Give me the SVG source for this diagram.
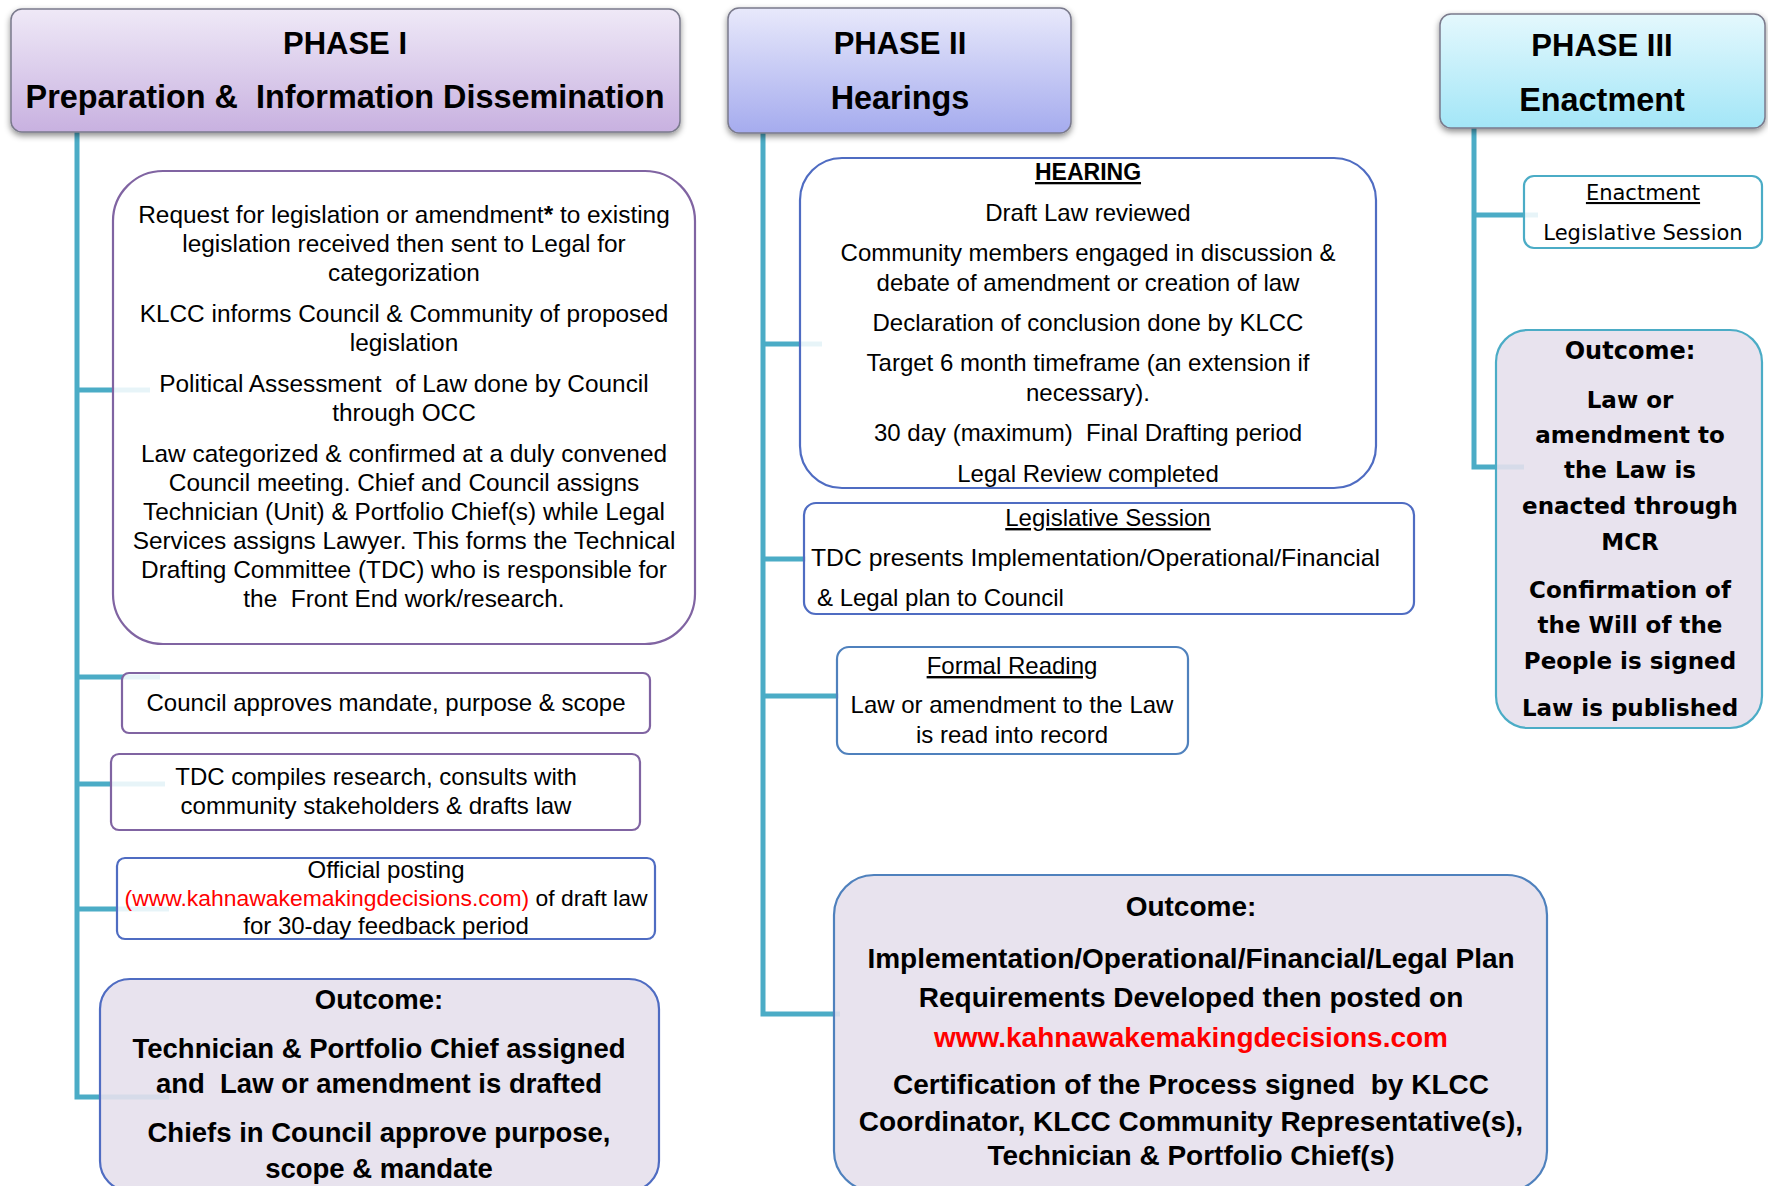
<svg xmlns="http://www.w3.org/2000/svg" width="1768" height="1186" viewBox="0 0 1768 1186">
<defs>
<linearGradient id="g1" x1="0" y1="0" x2="0" y2="1"><stop offset="0" stop-color="#efe9f7"/><stop offset="1" stop-color="#c8b1e0"/></linearGradient>
<linearGradient id="g2" x1="0" y1="0" x2="0" y2="1"><stop offset="0" stop-color="#e8e9fb"/><stop offset="1" stop-color="#a5abee"/></linearGradient>
<linearGradient id="g3" x1="0" y1="0" x2="0" y2="1"><stop offset="0" stop-color="#e4f8fd"/><stop offset="1" stop-color="#a3e6f7"/></linearGradient>
<filter id="sh" x="-5%" y="-10%" width="110%" height="130%"><feDropShadow dx="0" dy="3" stdDeviation="3" flood-color="#000" flood-opacity="0.45"/></filter>
<style>
.t{font-family:"Liberation Sans",Arial,sans-serif;font-size:24px;fill:#000;text-anchor:middle}
.w{font-size:24.4px}
.b{font-weight:bold}
.h1{font-size:31px;font-weight:bold}
.h2{font-size:32.4px;font-weight:bold}
.o1{font-size:27.5px;font-weight:bold}
.o2{font-size:28px;font-weight:bold}
.dv{font-family:"DejaVu Sans",Verdana,sans-serif;font-size:21px}
.dvb{font-family:"DejaVu Sans",Verdana,sans-serif;font-size:23px;font-weight:bold}
.u{text-decoration:underline}
.red{fill:#ff0000}
.hdr{stroke:#7a7a8c;stroke-width:1.5}
.bx{fill:#fff;fill-opacity:0.87;stroke-width:2.2}
.oc{fill:#e5e0ec;fill-opacity:0.9;stroke-width:2.2}
.p1{stroke:#8064a2}
.p2{stroke:#4f6cc2}
.p2b{stroke:#4f81bd}
.p3{stroke:#4bacc6}
.con{fill:none;stroke:#4bacc6;stroke-width:5}
</style>
</defs>

<g id="connectors" class="con">
<path d="M77 132 V1097 H169"/>
<path d="M77 390 H150"/>
<path d="M77 677 H160"/>
<path d="M77 784 H165"/>
<path d="M77 909 H169"/>
<path d="M763 133 V1014 H840"/>
<path d="M763 344 H822"/>
<path d="M763 559 H806"/>
<path d="M763 696 H839"/>
<path d="M1474 128 V467 H1524"/>
<path d="M1474 215 H1538"/>
</g>

<g id="phase1-header">
<rect x="11" y="9" width="669" height="123" rx="11" fill="url(#g1)" class="hdr" filter="url(#sh)"/>
<text class="t h1" x="345" y="54">PHASE I</text>
<text class="t h2" x="345" y="108" xml:space="preserve">Preparation &amp;  Information Dissemination</text>
</g>

<g id="phase2-header">
<rect x="728" y="8" width="343" height="125" rx="11" fill="url(#g2)" class="hdr" filter="url(#sh)"/>
<text class="t h1" x="900" y="54">PHASE II</text>
<text class="t h2" x="900" y="109">Hearings</text>
</g>

<g id="phase3-header">
<rect x="1440" y="14" width="325" height="114" rx="11" fill="url(#g3)" class="hdr" filter="url(#sh)"/>
<text class="t h1" x="1602" y="56">PHASE III</text>
<text class="t h2" x="1602" y="111">Enactment</text>
</g>

<g id="p1-request">
<rect x="113" y="171" width="582" height="473" rx="50" class="bx p1"/>
<text class="t w" x="404" y="223">Request for legislation or amendment<tspan class="b">*</tspan> to existing</text>
<text class="t w" x="404" y="252">legislation received then sent to Legal for</text>
<text class="t w" x="404" y="281">categorization</text>
<text class="t w" x="404" y="322">KLCC informs Council &amp; Community of proposed</text>
<text class="t w" x="404" y="351">legislation</text>
<text class="t w" x="404" y="392" xml:space="preserve">Political Assessment  of Law done by Council</text>
<text class="t w" x="404" y="421">through OCC</text>
<text class="t w" x="404" y="462">Law categorized &amp; confirmed at a duly convened</text>
<text class="t w" x="404" y="491">Council meeting. Chief and Council assigns</text>
<text class="t w" x="404" y="520">Technician (Unit) &amp; Portfolio Chief(s) while Legal</text>
<text class="t w" x="404" y="549">Services assigns Lawyer. This forms the Technical</text>
<text class="t w" x="404" y="578">Drafting Committee (TDC) who is responsible for</text>
<text class="t w" x="404" y="607" xml:space="preserve">the  Front End work/research.</text>
</g>

<g id="p1-council">
<rect x="122" y="673" width="528" height="60" rx="7" class="bx p1"/>
<text class="t" x="386" y="711">Council approves mandate, purpose &amp; scope</text>
</g>

<g id="p1-tdc">
<rect x="111" y="754" width="529" height="76" rx="8" class="bx p1"/>
<text class="t" x="376" y="785">TDC compiles research, consults with</text>
<text class="t" x="376" y="814">community stakeholders &amp; drafts law</text>
</g>

<g id="p1-posting">
<rect x="117" y="858" width="538" height="81" rx="8" class="bx p2"/>
<text class="t" x="386" y="878">Official posting</text>
<text class="t" x="386" y="906" style="font-size:22.9px"><tspan class="red">(www.kahnawakemakingdecisions.com)</tspan> of draft law</text>
<text class="t" x="386" y="934">for 30-day feedback period</text>
</g>

<g id="p1-outcome">
<rect x="100" y="979" width="559" height="212" rx="30" class="oc p2"/>
<text class="t o1" x="379" y="1009">Outcome:</text>
<text class="t o1" x="379" y="1058">Technician &amp; Portfolio Chief assigned</text>
<text class="t o1" x="379" y="1093" xml:space="preserve">and  Law or amendment is drafted</text>
<text class="t o1" x="379" y="1142">Chiefs in Council approve purpose,</text>
<text class="t o1" x="379" y="1178">scope &amp; mandate</text>
</g>

<g id="p2-hearing">
<rect x="800" y="158" width="576" height="330" rx="42" class="bx p2"/>
<text class="t b u" x="1088" y="180" style="font-size:23px">HEARING</text>
<text class="t" x="1088" y="221">Draft Law reviewed</text>
<text class="t" x="1088" y="261">Community members engaged in discussion &amp;</text>
<text class="t" x="1088" y="291">debate of amendment or creation of law</text>
<text class="t" x="1088" y="331">Declaration of conclusion done by KLCC</text>
<text class="t" x="1088" y="371">Target 6 month timeframe (an extension if</text>
<text class="t" x="1088" y="401">necessary).</text>
<text class="t" x="1088" y="441" xml:space="preserve">30 day (maximum)  Final Drafting period</text>
<text class="t" x="1088" y="482">Legal Review completed</text>
</g>

<g id="p2-legislative">
<rect x="804" y="503" width="610" height="111" rx="12" class="bx p2"/>
<text class="t u" x="1108" y="526">Legislative Session</text>
<text class="t" x="811" y="566" style="text-anchor:start" textLength="569" lengthAdjust="spacingAndGlyphs">TDC presents Implementation/Operational/Financial</text>
<text class="t" x="817" y="606" style="text-anchor:start">&amp; Legal plan to Council</text>
</g>

<g id="p2-formal">
<rect x="837" y="647" width="351" height="107" rx="12" class="bx p2b"/>
<text class="t u" x="1012" y="674">Formal Reading</text>
<text class="t" x="1012" y="713">Law or amendment to the Law</text>
<text class="t" x="1012" y="743">is read into record</text>
</g>

<g id="p2-outcome">
<rect x="834" y="875" width="713" height="316" rx="40" class="oc p2b"/>
<text class="t o2" x="1191" y="916">Outcome:</text>
<text class="t o2" x="1191" y="968">Implementation/Operational/Financial/Legal Plan</text>
<text class="t o2" x="1191" y="1007">Requirements Developed then posted on</text>
<text class="t o2 red" x="1191" y="1047">www.kahnawakemakingdecisions.com</text>
<text class="t o2" x="1191" y="1094" xml:space="preserve">Certification of the Process signed  by KLCC</text>
<text class="t o2" x="1191" y="1131">Coordinator, KLCC Community Representative(s),</text>
<text class="t o2" x="1191" y="1165">Technician &amp; Portfolio Chief(s)</text>
</g>

<g id="p3-enactment">
<rect x="1524" y="176" width="238" height="72" rx="10" class="bx p3"/>
<text class="t dv u" x="1643" y="200">Enactment</text>
<text class="t dv" x="1643" y="240">Legislative Session</text>
</g>

<g id="p3-outcome">
<rect x="1496" y="330" width="266" height="398" rx="32" class="oc p3"/>
<text class="t dvb" x="1630" y="359" style="font-size:24px">Outcome:</text>
<text class="t dvb" x="1630" y="408">Law or</text>
<text class="t dvb" x="1630" y="443">amendment to</text>
<text class="t dvb" x="1630" y="478">the Law is</text>
<text class="t dvb" x="1630" y="514">enacted through</text>
<text class="t dvb" x="1630" y="550">MCR</text>
<text class="t dvb" x="1630" y="598">Confirmation of</text>
<text class="t dvb" x="1630" y="633">the Will of the</text>
<text class="t dvb" x="1630" y="669">People is signed</text>
<text class="t dvb" x="1630" y="716">Law is published</text>
</g>
</svg>
